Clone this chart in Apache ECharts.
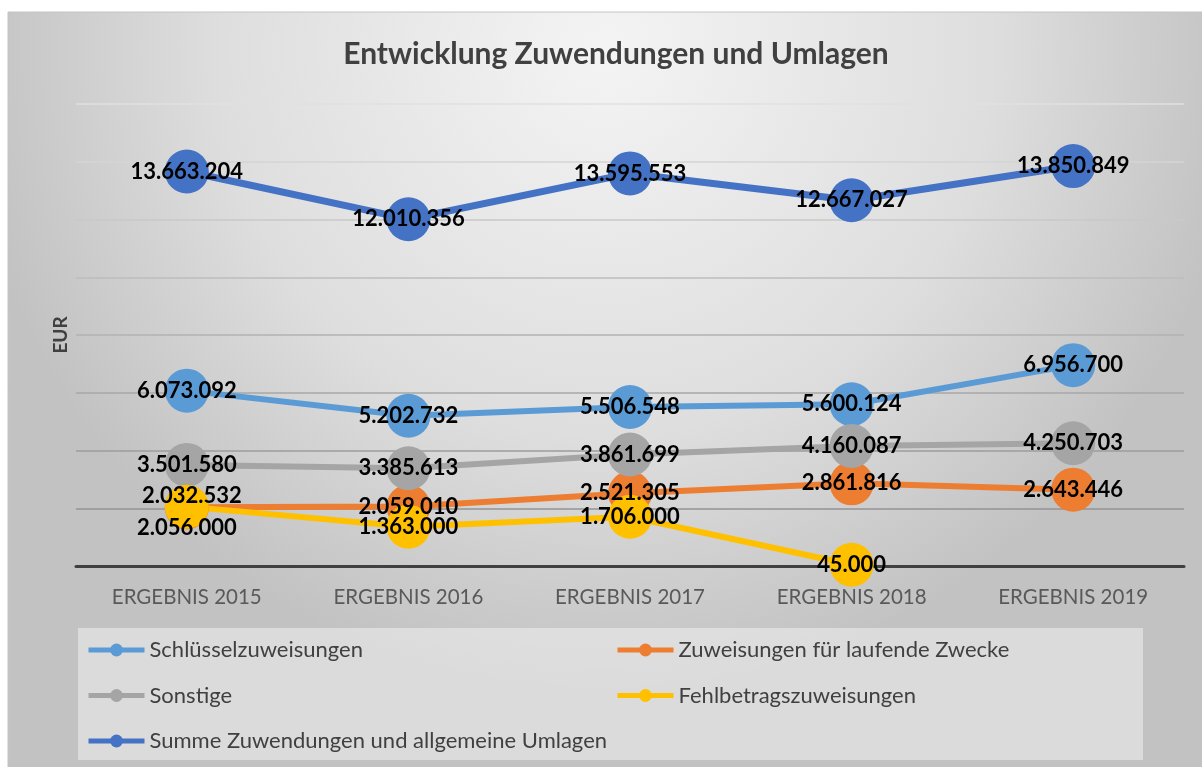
<!DOCTYPE html>
<html>
<head>
<meta charset="utf-8">
<script src="https://cdn.jsdelivr.net/npm/echarts@6/dist/echarts.min.js"></script>
<style>
  html, body { margin: 0; padding: 0; background: #fff; }
  #main { width: 1202px; height: 767px; }
</style>
</head>
<body>
<div id="main"></div>
<script>
// Kategorien
var categories = ['ERGEBNIS 2015', 'ERGEBNIS 2016', 'ERGEBNIS 2017', 'ERGEBNIS 2018', 'ERGEBNIS 2019'];

// Werte je Reihe (EUR)
var schluessel = [6073092, 5202732, 5506548, 5600124, 6956700];
var laufendeZwecke = [2032532, 2059010, 2521305, 2861816, 2643446];
var sonstige = [3501580, 3385613, 3861699, 4160087, 4250703];
var fehlbetrag = [2056000, 1363000, 1706000, 45000, null];
var summe = [13663204, 12010356, 13595553, 12667027, 13850849];

var seriesNames = [
  'Schlüsselzuweisungen',
  'Zuweisungen für laufende Zwecke',
  'Sonstige',
  'Fehlbetragszuweisungen',
  'Summe Zuwendungen und allgemeine Umlagen'
];
var seriesColors = ['#5b9bd5', '#ed7d31', '#a5a5a5', '#ffc000', '#4472c4'];

// y-Achse
var yMin = 0, yMax = 16000000, yStep = 2000000;

var FONT = 'Lato, "Open Sans", sans-serif';

function fmt(v) {
  return String(v).replace(/\B(?=(\d{3})+(?!\d))/g, '.');
}

// special: Label-Verschiebung fuer einzelne Punkte (ueberlappende Werte)
function makeSeries(idx, values, width, special) {
  return {
    name: seriesNames[idx],
    type: 'line',
    data: values.map(function (v, i) {
      if (special && special[i]) {
        return { value: v, label: { offset: special[i] } };
      }
      return v;
    }),
    symbol: 'circle',
    symbolSize: 44,
    showAllSymbol: true,
    lineStyle: { width: width, color: seriesColors[idx] },
    itemStyle: { color: seriesColors[idx] },
    label: {
      show: true,
      position: 'inside',
      formatter: function (p) { return fmt(p.value); },
      color: '#000',
      fontFamily: FONT,
      fontWeight: 'bold',
      fontSize: 22
    },
    emphasis: { disabled: true },
    animation: false
  };
}

var chart = echarts.init(document.getElementById('main'));

var legendText = { fontFamily: FONT, fontSize: 22, color: '#404040', lineHeight: 22 };

var option = {
  backgroundColor: '#fff',
  textStyle: { fontFamily: FONT },
  graphic: [
    {
      type: 'rect',
      shape: { x: 8, y: 12, width: 1194, height: 755 },
      style: {
        fill: new echarts.graphic.RadialGradient(0.5, 0.05, 0.85, [
          { offset: 0, color: '#f4f4f4' },
          { offset: 0.6, color: '#dedede' },
          { offset: 1, color: '#c2c2c2' }
        ]),
        stroke: '#c4c4c4',
        lineWidth: 1
      },
      silent: true
    },
    {
      type: 'rect',
      shape: { x: 78, y: 628, width: 1065, height: 132 },
      style: { fill: 'rgba(240,240,240,0.55)' },
      silent: true
    }
  ],
  title: {
    text: 'Entwicklung Zuwendungen und Umlagen',
    left: 611,
    textAlign: 'center',
    top: 34,
    textStyle: {
      fontFamily: FONT,
      fontSize: 30,
      fontWeight: 'bold',
      color: '#404040'
    }
  },
  legend: [
    {
      orient: 'vertical',
      left: 86,
      top: 639,
      padding: 0,
      itemGap: 23.5,
      itemWidth: 56,
      itemHeight: 16,
      lineStyle: { width: 5 },
      data: [seriesNames[0], seriesNames[2], seriesNames[4]],
      textStyle: legendText
    },
    {
      orient: 'vertical',
      left: 615,
      top: 639,
      padding: 0,
      itemGap: 23.5,
      itemWidth: 56,
      itemHeight: 16,
      lineStyle: { width: 5 },
      data: [seriesNames[1], seriesNames[3]],
      textStyle: legendText
    }
  ],
  grid: { left: 76, right: 18, top: 104, bottom: 201 },
  xAxis: {
    type: 'category',
    data: categories,
    boundaryGap: true,
    axisLine: { lineStyle: { color: '#404040', width: 3 } },
    axisTick: { show: false },
    axisLabel: {
      margin: 21,
      fontFamily: FONT,
      fontSize: 20.5,
      color: '#595959'
    }
  },
  yAxis: {
    type: 'value',
    min: yMin,
    max: yMax,
    interval: yStep,
    name: 'EUR',
    nameLocation: 'middle',
    nameRotate: 90,
    nameGap: 6,
    nameTextStyle: {
      fontFamily: FONT,
      fontSize: 19,
      fontWeight: 'bold',
      color: '#404040'
    },
    axisLine: { show: false },
    axisTick: { show: false },
    axisLabel: { show: false },
    splitLine: {
      lineStyle: {
        width: 1.5,
        color: ['#404040', '#939393', '#9d9d9d', '#a7a7a7', '#b2b2b2', '#bdbdbd', '#c9c9c9', '#d5d5d5', '#e0e0e0']
      }
    }
  },
  series: [
    makeSeries(0, schluessel, 6),
    makeSeries(1, laufendeZwecke, 6, { 0: [5, -11] }),
    makeSeries(2, sonstige, 6),
    makeSeries(3, fehlbetrag, 6, { 0: [0, 21] }),
    makeSeries(4, summe, 7)
  ]
};

chart.setOption(option);
</script>
</body>
</html>
